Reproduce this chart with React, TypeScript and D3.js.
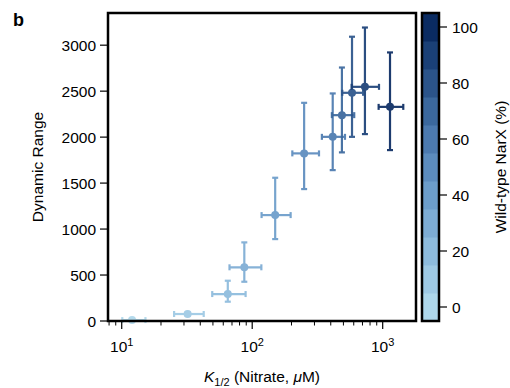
import * as d3 from 'd3';

// K1/2 (uM) with horizontal error extent
const k = [12, 32, 65, 87, 150, 250, 414, 487, 582, 731, 1138];
const kLo = [10.1, 25.2, 49.4, 67, 118, 203, 342, 408, 490, 578, 931];
const kHi = [15.2, 42.5, 89, 117.5, 197, 325, 514, 605, 708, 937, 1438];
// Dynamic range with vertical error extent
const dr = [10, 76, 293, 584, 1152, 1823, 2003, 2239, 2482, 2547, 2329];
const drLo = [0, 58, 210, 427, 891, 1435, 1641, 1834, 2003, 2033, 1859];
const drHi = [20, 94, 438, 855, 1558, 2373, 2475, 2757, 3092, 3192, 2921];
// wild-type fraction (%)
const wt = [0, 10, 20, 30, 40, 50, 60, 70, 80, 90, 100];

const yTicks = [0, 500, 1000, 1500, 2000, 2500, 3000];
const xMajor = [10, 100, 1000];
const xMinor = [8, 9, 20, 30, 40, 50, 60, 70, 80, 90, 200, 300, 400, 500, 600, 700, 800, 900];
const cbTicks = [0, 20, 40, 60, 80, 100];
const cbLevels = [0, 10, 20, 30, 40, 50, 60, 70, 80, 90, 100];

const FONT = '"Liberation Sans", Arial, Helvetica, sans-serif';

export default function App() {
  const W = 510, H = 388;
  const left = 108, right = 416, top = 13, bottom = 321;
  const cbX = 422, cbW = 17;

  const x = d3.scaleLog().domain([7.85, 1800]).range([left, right]);
  const y = d3.scaleLinear().domain([0, 3350]).range([bottom, top]);
  const c = d3.scaleLinear().domain([-5, 105]).range([bottom, top]);
  const cmap = d3.interpolateRgbBasis(['#aed7eb', '#5c92c9', '#0a2b62']);
  const color = (v: number) => cmap(v / 100);

  const cap = 3;

  return (
    <div style={{ position: 'fixed', left: 0, top: 0, width: W, height: H, overflow: 'hidden' }}>
      <svg width={W} height={H} style={{ display: 'block', fontFamily: FONT }}>
        <rect width={W} height={H} fill="#fff" />
        <text x={13} y={26} fontSize={18} fontWeight="bold">b</text>

        {/* data */}
        {k.map((_, i) => {
          const col = color(wt[i]);
          const cx = x(k[i]), cy = y(dr[i]);
          return (
            <g key={i} stroke={col} strokeWidth={2.2} opacity={0.92}>
              <line x1={x(kLo[i])} x2={x(kHi[i])} y1={cy} y2={cy} />
              <line x1={cx} x2={cx} y1={y(drLo[i])} y2={y(drHi[i])} />
              <line x1={x(kLo[i])} x2={x(kLo[i])} y1={cy - cap} y2={cy + cap} />
              <line x1={x(kHi[i])} x2={x(kHi[i])} y1={cy - cap} y2={cy + cap} />
              <line x1={cx - cap} x2={cx + cap} y1={y(drLo[i])} y2={y(drLo[i])} />
              <line x1={cx - cap} x2={cx + cap} y1={y(drHi[i])} y2={y(drHi[i])} />
              <circle cx={cx} cy={cy} r={4} fill={col} stroke="none" />
            </g>
          );
        })}

        {/* frame */}
        <rect x={left} y={top} width={right - left} height={bottom - top} fill="none" stroke="#000" strokeWidth={2.5} />

        {/* y axis */}
        {yTicks.map((t) => (
          <g key={t}>
            <line x1={left - 8} x2={left} y1={y(t)} y2={y(t)} stroke="#000" strokeWidth={1.2} />
            <text x={left - 12} y={y(t)} dy="0.36em" textAnchor="end" fontSize={15.5}>{t}</text>
          </g>
        ))}
        <text transform={`translate(43,${(top + bottom) / 2}) rotate(-90)`} textAnchor="middle" fontSize={15.5}>Dynamic Range</text>

        {/* x axis */}
        {xMinor.map((t) => (
          <line key={t} x1={x(t)} x2={x(t)} y1={bottom} y2={bottom + 4.5} stroke="#000" strokeWidth={1} />
        ))}
        {xMajor.map((t) => (
          <g key={t}>
            <line x1={x(t)} x2={x(t)} y1={bottom} y2={bottom + 8} stroke="#000" strokeWidth={1.2} />
            <text x={x(t)} y={352} textAnchor="middle" fontSize={15.5}>
              10<tspan fontSize={11} dy={-6}>{Math.round(Math.log10(t))}</tspan>
            </text>
          </g>
        ))}
        <text x={(left + right) / 2} y={382} textAnchor="middle" fontSize={15.5}>
          <tspan fontStyle="italic">K</tspan>
          <tspan fontSize={11} dy={4}>1/2</tspan>
          <tspan dy={-4}> (Nitrate, </tspan>
          <tspan fontStyle="italic">μ</tspan>
          <tspan>M)</tspan>
        </text>

        {/* colorbar */}
        {cbLevels.map((v) => (
          <rect key={v} x={cbX} y={c(v + 5)} width={cbW} height={c(v - 5) - c(v + 5) + 0.5} fill={color(v)} />
        ))}
        <rect x={cbX} y={top} width={cbW} height={bottom - top} fill="none" stroke="#000" strokeWidth={2.5} />
        {cbTicks.map((t) => (
          <g key={t}>
            <line x1={cbX + cbW} x2={cbX + cbW + 8} y1={c(t)} y2={c(t)} stroke="#000" strokeWidth={1.2} />
            <text x={cbX + cbW + 13} y={c(t)} dy="0.36em" fontSize={15.5}>{t}</text>
          </g>
        ))}
        <text transform={`translate(506,${(top + bottom) / 2}) rotate(-90)`} textAnchor="middle" fontSize={15.5}>Wild-type NarX (%)</text>
      </svg>
    </div>
  );
}
